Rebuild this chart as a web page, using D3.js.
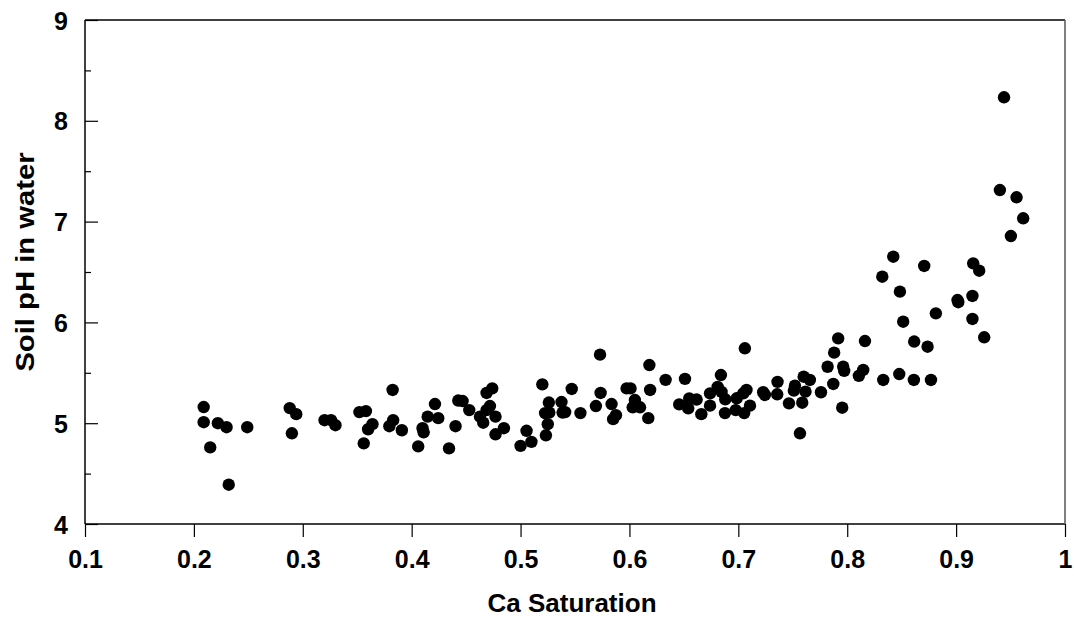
<!DOCTYPE html>
<html>
<head>
<meta charset="utf-8">
<script src="https://cdn.jsdelivr.net/npm/d3@7"></script>
<style>
  body { margin: 0; background: #fff; }
  text { font-family: "Liberation Sans", Arial, sans-serif; font-weight: bold; }
</style>
</head>
<body>
<div id="chart"></div>
<script>
// values
const caSaturation = [
  0.209, 0.209, 0.222, 0.230, 0.249, 0.215, 0.232, 0.288, 0.294, 0.290,
  0.320, 0.326, 0.330, 0.352, 0.358, 0.364, 0.360, 0.356, 0.3825, 0.383,
  0.3795, 0.391, 0.406, 0.410, 0.411, 0.4147, 0.4214, 0.4244, 0.4343, 0.4403,
  0.4428, 0.4468, 0.4529, 0.4627, 0.4657, 0.4688, 0.474, 0.4719, 0.4688, 0.477,
  0.477, 0.4847, 0.500, 0.5055, 0.510, 0.520, 0.526, 0.5225, 0.5264, 0.525,
  0.5233, 0.5376, 0.5386, 0.541, 0.547, 0.555, 0.5692, 0.5735, 0.573, 0.5836,
  0.585, 0.5876, 0.5974, 0.601, 0.605, 0.603, 0.6097, 0.6183, 0.619, 0.6173,
  0.6332, 0.6457, 0.651, 0.6549, 0.654, 0.6617, 0.666, 0.674, 0.674, 0.681,
  0.684, 0.6846, 0.688, 0.6877, 0.6985, 0.6976, 0.7045, 0.7075, 0.7054, 0.7107,
  0.706, 0.7228, 0.7244, 0.736, 0.7357, 0.7465, 0.752, 0.751, 0.760, 0.7657,
  0.7617, 0.7587, 0.7566, 0.7759, 0.782, 0.7872, 0.788, 0.7917, 0.7963, 0.7972,
  0.7954, 0.8107, 0.8147, 0.8163, 0.8322, 0.8331, 0.8423, 0.8484, 0.8478, 0.8514,
  0.8615, 0.8612, 0.8707, 0.8738, 0.8769, 0.8814, 0.944, 0.9402, 0.9555, 0.9616,
  0.9503, 0.9157, 0.9212, 0.9013, 0.902, 0.915, 0.915, 0.9258
];
const soilPH = [
  5.16, 5.01, 5.00, 4.96, 4.96, 4.76, 4.39, 5.15, 5.09, 4.90,
  5.03, 5.03, 4.98, 5.11, 5.12, 4.99, 4.94, 4.80, 5.33, 5.03,
  4.97, 4.93, 4.77, 4.95, 4.91, 5.065, 5.19, 5.05, 4.75, 4.97,
  5.225, 5.22, 5.13, 5.065, 5.005, 5.30, 5.345, 5.17, 5.13, 5.065,
  4.89, 4.95, 4.775, 4.925, 4.815, 5.385, 5.205, 5.10, 5.105, 4.99,
  4.88, 5.21, 5.105, 5.11, 5.34, 5.10, 5.17, 5.30, 5.68, 5.19,
  5.04, 5.08, 5.345, 5.345, 5.23, 5.158, 5.158, 5.577, 5.33, 5.05,
  5.43, 5.187, 5.44, 5.245, 5.147, 5.235, 5.09, 5.296, 5.174, 5.36,
  5.478, 5.31, 5.237, 5.10, 5.247, 5.13, 5.296, 5.33, 5.10, 5.174,
  5.743, 5.307, 5.28, 5.41, 5.287, 5.197, 5.372, 5.323, 5.461, 5.429,
  5.313, 5.203, 4.90, 5.307, 5.56, 5.389, 5.70, 5.842, 5.56, 5.52,
  5.154, 5.47, 5.528, 5.815, 6.453, 5.429, 6.652, 6.305, 5.488, 6.007,
  5.81, 5.429, 6.56, 5.759, 5.429, 6.09, 8.233, 7.313, 7.241, 7.033,
  6.857, 6.586, 6.513, 6.222, 6.20, 6.262, 6.034, 5.852
];
const xTicks = [0.1, 0.2, 0.3, 0.4, 0.5, 0.6, 0.7, 0.8, 0.9, 1];
const yTicks = [4, 5, 6, 7, 8, 9];
const yMinorTicks = [4.5, 5.5, 6.5, 7.5, 8.5];

function main() {
    const width = 1074, height = 622;
    const plotLeft = 85, plotRight = 1065, plotTop = 20, plotBottom = 524;

    const svg = d3.select("#chart").append("svg")
        .attr("width", width)
        .attr("height", height);

    const x = d3.scaleLinear().domain([0.1, 1]).range([plotLeft, plotRight]);
    const y = d3.scaleLinear().domain([4, 9]).range([plotBottom, plotTop]);

    // x axis, ticks pointing down
    const xAxis = svg.append("g")
        .attr("transform", `translate(0,${plotBottom})`)
        .call(d3.axisBottom(x)
            .tickValues(xTicks)
            .tickSize(13)
            .tickSizeOuter(0)
            .tickPadding(13)
            .tickFormat(d => d));
    xAxis.select(".domain").remove();

    // y axis, ticks pointing inside
    const yAxis = svg.append("g")
        .attr("transform", `translate(${plotLeft},0)`)
        .call(d3.axisLeft(y)
            .tickValues(yTicks)
            .tickSize(-13)
            .tickSizeOuter(0)
            .tickPadding(17)
            .tickFormat(d => d));
    yAxis.select(".domain").remove();
    yAxis.selectAll("text").attr("dy", "0.36em");

    const yMinor = svg.append("g")
        .attr("transform", `translate(${plotLeft},0)`)
        .call(d3.axisLeft(y)
            .tickValues(yMinorTicks)
            .tickSize(-6)
            .tickSizeOuter(0)
            .tickFormat(""));
    yMinor.select(".domain").remove();

    svg.selectAll(".tick line").attr("stroke", "#000").attr("stroke-width", 1.2);
    svg.selectAll(".tick text")
        .attr("font-size", 25)
        .attr("font-family", "'Liberation Sans', Arial, sans-serif")
        .attr("font-weight", "bold")
        .attr("fill", "#000");

    // frame
    const frame = svg.append("g").attr("fill", "none").attr("stroke-width", 1.5);
    frame.append("line").attr("x1", plotLeft).attr("x2", plotRight)
        .attr("y1", plotTop).attr("y2", plotTop).attr("stroke", "#000");
    frame.append("line").attr("x1", plotLeft).attr("x2", plotRight)
        .attr("y1", plotBottom).attr("y2", plotBottom).attr("stroke", "#000");
    frame.append("line").attr("x1", plotLeft).attr("x2", plotLeft)
        .attr("y1", plotTop).attr("y2", plotBottom).attr("stroke", "#000");
    frame.append("line").attr("x1", plotRight).attr("x2", plotRight)
        .attr("y1", plotTop).attr("y2", plotBottom).attr("stroke", "#555");

    // points
    svg.append("g")
        .selectAll("circle")
        .data(d3.zip(caSaturation, soilPH))
        .enter().append("circle")
        .attr("cx", d => x(d[0]))
        .attr("cy", d => y(d[1]))
        .attr("r", 6.2)
        .attr("fill", "#000");

    // axis titles
    svg.append("text")
        .attr("x", (plotLeft + plotRight) / 2 - 3)
        .attr("y", 612)
        .attr("text-anchor", "middle")
        .attr("font-size", 26)
        .text("Ca Saturation");

    svg.append("text")
        .attr("transform", "translate(34,262) rotate(-90) scale(1.17,1)")
        .attr("text-anchor", "middle")
        .attr("font-size", 25)
        .text("Soil pH in water");
}
main();
</script>
</body>
</html>
